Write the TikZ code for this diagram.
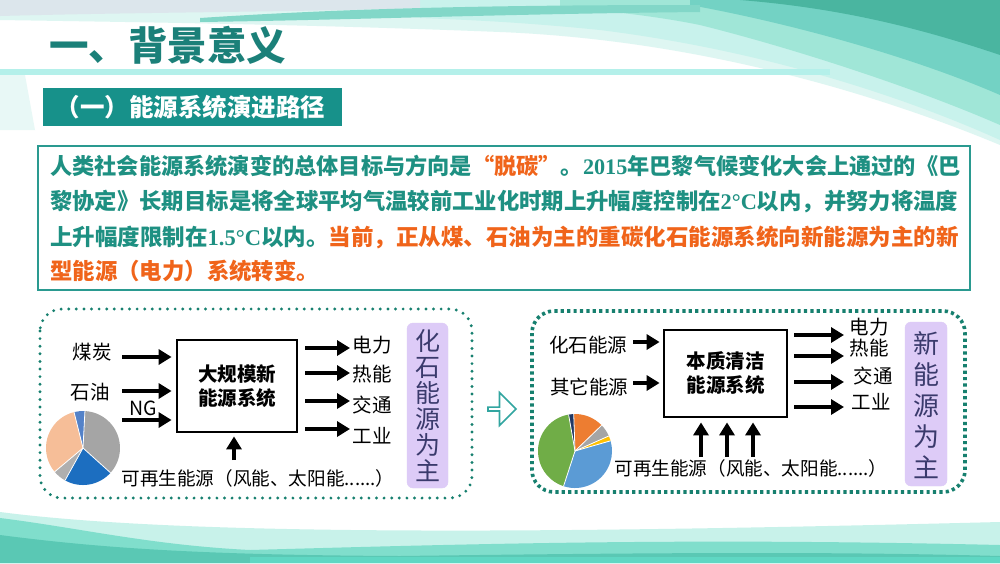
\documentclass[tikz,border=0pt]{standalone}
\usepackage{fontspec}
\setmainfont{Noto Sans CJK SC}
\newfontfamily\tnr{Liberation Serif}
\usetikzlibrary{arrows.meta,shapes.arrows}
\definecolor{titlec}{HTML}{1B8079}
\definecolor{subfill}{HTML}{17918A}
\definecolor{tealtxt}{HTML}{1E9082}
\definecolor{orng}{HTML}{F0641A}
\definecolor{dotc}{HTML}{17806F}
\definecolor{purp}{HTML}{DDCBF7}
\definecolor{purptxt}{HTML}{3A3A6C}
\definecolor{bx}{HTML}{2A9A90}
\definecolor{wA}{RGB}{222,246,242}
\definecolor{wB}{RGB}{200,242,236}
\definecolor{wC}{RGB}{220,230,236}
\definecolor{wD}{RGB}{160,230,215}
\definecolor{wE}{RGB}{115,210,196}
\definecolor{wF}{RGB}{74,181,160}
\definecolor{wG}{RGB}{130,215,200}
\definecolor{wH}{RGB}{180,240,234}
\definecolor{wI}{RGB}{232,248,246}
\definecolor{bA}{RGB}{200,242,234}
\definecolor{bB}{RGB}{128,222,204}
\definecolor{bC}{RGB}{90,200,180}
\definecolor{bD}{RGB}{95,215,195}
\definecolor{harc}{RGB}{50,165,160}
\definecolor{pg1}{RGB}{165,165,165}
\definecolor{pb1}{RGB}{84,130,200}
\definecolor{pp1}{RGB}{246,190,152}
\definecolor{pg2}{RGB}{175,175,175}
\definecolor{pd1}{RGB}{28,110,192}
\definecolor{qg}{RGB}{112,173,71}
\definecolor{qb}{RGB}{91,155,213}
\definecolor{qy}{RGB}{255,192,0}
\definecolor{qa}{RGB}{165,165,165}
\definecolor{qo}{RGB}{237,125,49}
\definecolor{qn}{RGB}{32,56,100}
\tikzset{
  arr/.style={line width=4.2pt,-{Triangle[length=13pt,width=15pt]}},
  lbl/.style={font=\fontsize{19.5}{19.5}\selectfont,inner sep=0pt},
  btm/.style={font=\fontsize{18.6}{19}\selectfont,inner sep=0pt},
  sysbox/.style={draw=black,line width=2.8pt,fill=white,align=center,font=\fontsize{19.5}{24}\selectfont\bfseries},
  vert/.style={font=\fontsize{25}{26}\selectfont,text=purptxt,align=center,text width=28pt,inner sep=0pt},
  para/.style={anchor=west,inner sep=0pt,text=tealtxt},
}
\begin{document}
\begin{tikzpicture}[x=1pt,y=-1pt]
\useasboundingbox (0,0) rectangle (1000,563);
\fill[white] (0,0) rectangle (1000,563);
% top waves
\fill[wA] (0,0) -- (1000,0) -- (1000,145) .. controls (880,95) and (700,40) .. (500,32) .. controls (300,24) and (120,22) .. (0,20) -- cycle;
\fill[wB] (420,0) -- (1000,0) -- (1000,140) .. controls (900,95) and (760,50) .. (600,30) .. controls (520,22) and (470,20) .. (420,18) -- cycle;
\fill[wC] (0,0) -- (420,0) -- (420,8) .. controls (300,12) and (150,12) .. (0,16) -- cycle;
\fill[wD] (560,0) -- (1000,0) -- (1000,125) .. controls (920,90) and (800,50) .. (700,25) .. controls (650,15) and (600,10) .. (560,8) -- cycle;
\fill[wE] (690,0) -- (1000,0) -- (1000,95) .. controls (920,60) and (800,25) .. (690,5) -- cycle;
\fill[wF] (740,0) -- (1000,0) -- (1000,55) .. controls (920,28) and (840,8) .. (740,0) -- cycle;
\fill[wG] (200,18) .. controls (350,8) and (500,5) .. (700,5) -- (700,12) .. controls (500,14) and (350,20) .. (200,22) -- cycle;
\fill[wH] (0,69) rectangle (830,75);
\fill[wI] (0,75) -- (25,75) -- (35,130) -- (0,130) -- cycle;
% bottom waves
\fill[bA] (0,512) .. controls (200,538) and (600,532) .. (1000,522) -- (1000,563) -- (0,563) -- cycle;
\fill[bB] (0,518) .. controls (80,528) and (150,545) .. (250,550) .. controls (500,543) and (700,538) .. (1000,545) -- (1000,563) -- (0,563) -- cycle;
\fill[bC] (0,535) .. controls (100,548) and (200,555) .. (400,556) .. controls (700,552) and (850,552) .. (1000,556) -- (1000,563) -- (0,563) -- cycle;
\fill[bD] (250,557) -- (1000,557) -- (1000,563) -- (250,563) -- cycle;
% title
\node[anchor=west,inner sep=0pt,text=titlec,font=\fontsize{39.5}{40}\selectfont\bfseries] (title) at (49,45) {一、背景意义};
\node[fill=subfill,text=white,anchor=west,minimum width=299pt,minimum height=38pt,inner sep=0pt,font=\fontsize{24.5}{25}\selectfont\bfseries] (sub) at (43,107) {（一）能源系统演进路径\hspace*{4pt}};
% text box
\node[draw=bx,line width=1.2pt,fill=white,minimum width=932pt,minimum height=144pt,inner sep=0pt] (tbox) at (504,218) {};
\node[para,font=\fontsize{22.2}{23}\selectfont\bfseries] (l1) at (50,166) {人类社会能源系统演变的总体目标与方向是\textcolor{orng}{“脱碳”}。{\tnr 2015}年巴黎气候变化大会上通过的《巴};
\node[para,font=\fontsize{22.35}{23}\selectfont\bfseries] (l2) at (50,202) {黎协定》长期目标是将全球平均气温较前工业化时期上升幅度控制在{\tnr 2°C}以内，并努力将温度};
\node[para,font=\fontsize{22.5}{23}\selectfont\bfseries] (l3) at (50,237) {上升幅度限制在{\tnr 1.5°C}以内。\textcolor{orng}{当前，正从煤、石油为主的重碳化石能源系统向新能源为主的新}};
\node[para,text=orng,font=\fontsize{22.4}{23}\selectfont\bfseries] (l4) at (50,271) {型能源（电力）系统转变。};
% dotted frames
\draw[dotc,line width=3.2pt,line cap=round,dash pattern=on 0pt off 7.6pt,rounded corners=22pt] (40,309) rectangle (472,498);
\draw[dotc,line width=3.6pt,dash pattern=on 3.2pt off 3.2pt,rounded corners=22pt] (532,311) rectangle (965,492);
% hollow arrow
\node[single arrow,draw=harc,line width=1.6pt,fill=white,minimum height=28pt,minimum width=33pt,single arrow head extend=6pt,inner sep=0pt] (harr) at (501,409) {};
% ===== left panel =====
\node[lbl] (coal) at (92,352) {煤炭};
\node[lbl] (oil) at (90,392) {石油};
\node[lbl] (ng) at (143,408) {NG};
\node[sysbox,minimum width=120pt,minimum height=92pt,inner sep=0pt] (box1) at (237,386) {大规模新\\能源系统};
\coordinate (i1) at (122,357);
\coordinate (i2) at (122,391);
\coordinate (i3) at (122,420);
\foreach \c in {i1,i2,i3} \draw[arr,shorten >=4pt] (\c) -- (\c -| box1.west);
\coordinate (u1) at (234,460);
\draw[arr,shorten >=3pt] (u1) -- (u1 |- box1.south);
\coordinate (o1) at (350,348);
\coordinate (o2) at (350,373);
\coordinate (o3) at (350,401);
\coordinate (o4) at (350,429);
\foreach \c in {o1,o2,o3,o4} \draw[arr,shorten <=7pt] (\c -| box1.east) -- (\c);
\node[lbl] (e1) at (372,345) {电力};
\node[lbl] (e2) at (372,374) {热能};
\node[lbl] (e3) at (372,405) {交通};
\node[lbl] (e4) at (372,436) {工业};
\node[btm] (ren1) at (258,478) {可再生能源（风能、太阳能......）};
\draw[purp,fill=purp,rounded corners=6pt] (407,323) rectangle (448,488);
\node[vert] (v1) at (427.5,406) {化\\石\\能\\源\\为\\主};
% left pie
\begin{scope}[shift={(83,448)},yscale=-1]
\fill[pg1] (0,0) -- (-42:37) arc[start angle=-42,end angle=87,radius=37] -- cycle;
\fill[pb1] (0,0) -- (87:37) arc[start angle=87,end angle=104,radius=37] -- cycle;
\fill[pp1] (0,0) -- (104:37) arc[start angle=104,end angle=220,radius=37] -- cycle;
\fill[pg2] (0,0) -- (220:37) arc[start angle=220,end angle=241,radius=37] -- cycle;
\fill[pd1] (0,0) -- (241:37) arc[start angle=241,end angle=318,radius=37] -- cycle;
\foreach \a in {-42,87,104,220,241} \draw[white,line width=0.8pt] (0,0) -- (\a:37);
\end{scope}
% ===== right panel =====
\node[lbl] (f1) at (588,345) {化石能源};
\node[lbl] (f2) at (589,387) {其它能源};
\node[sysbox,minimum width=123pt,minimum height=87pt,inner sep=0pt] (box2) at (725.5,373.5) {本质清洁\\能源系统};
\coordinate (j1) at (633,342);
\coordinate (j2) at (633,383);
\foreach \c in {j1,j2} \draw[arr,shorten >=3pt] (\c) -- (\c -| box2.west);
\coordinate (w1) at (701,457);
\coordinate (w2) at (727,457);
\coordinate (w3) at (753,457);
\foreach \c in {w1,w2,w3} \draw[arr,shorten >=4pt] (\c) -- (\c |- box2.south);
\coordinate (p1) at (844,335);
\coordinate (p2) at (844,356);
\coordinate (p3) at (844,382);
\coordinate (p4) at (844,407);
\foreach \c in {p1,p2,p3,p4} \draw[arr,shorten <=6pt] (\c -| box2.east) -- (\c);
\node[lbl] (g1) at (869,327) {电力};
\node[lbl] (g2) at (869,348) {热能};
\node[lbl] (g3) at (873,376) {交通};
\node[lbl] (g4) at (871,402) {工业};
\node[btm] (ren2) at (751,468) {可再生能源（风能、太阳能......）};
\draw[purp,fill=purp,rounded corners=6pt] (905,322) rectangle (947,486);
\node[vert,font=\fontsize{26}{31}\selectfont] (v2) at (926,405) {新\\能\\源\\为\\主};
% right pie
\begin{scope}[shift={(575,451)},yscale=-1]
\fill[qg] (0,0) -- (100:37) arc[start angle=100,end angle=252,radius=37] -- cycle;
\fill[qb] (0,0) -- (252:37) arc[start angle=252,end angle=376,radius=37] -- cycle;
\fill[qy] (0,0) -- (16:37) arc[start angle=16,end angle=24,radius=37] -- cycle;
\fill[qa] (0,0) -- (24:37) arc[start angle=24,end angle=44,radius=37] -- cycle;
\fill[qo] (0,0) -- (44:37) arc[start angle=44,end angle=92,radius=37] -- cycle;
\fill[qn] (0,0) -- (92:37) arc[start angle=92,end angle=100,radius=37] -- cycle;
\foreach \a in {16,24,44,92,100,252} \draw[white,line width=0.8pt] (0,0) -- (\a:37);
\end{scope}
\end{tikzpicture}
\end{document}
